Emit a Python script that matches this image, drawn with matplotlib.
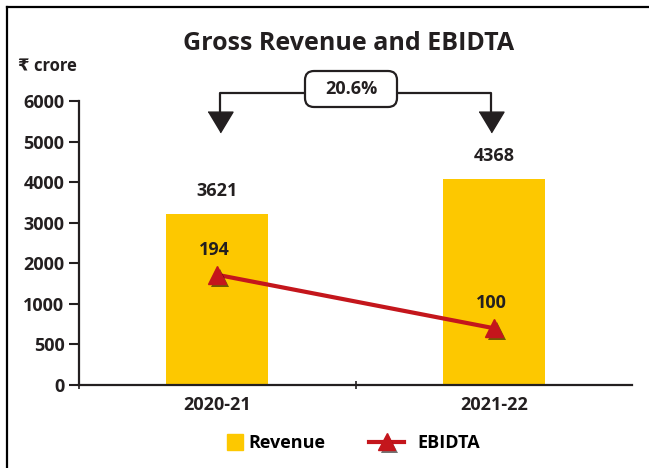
import numpy as np
import matplotlib.pyplot as plt
import matplotlib.patheffects as pe
from matplotlib.lines import Line2D
from matplotlib.patches import FancyBboxPatch
from matplotlib.transforms import IdentityTransform

plt.rcParams['font.family'] = ['Open Sans', 'DejaVu Sans']
plt.rcParams['font.weight'] = 'bold'

years = ["2020-21", "2021-22"]
revenue = [3621, 4368]
ebidta = [194, 100]
growth_label = "20.6%"
ytick_labels = ["0", "500", "1000", "2000", "3000", "4000", "5000", "6000"]

DARK = "#231F20"
YELLOW = "#FDC800"
RED = "#C4161C"
FS = 13

fig = plt.figure(figsize=(6.49, 4.68), dpi=100)
ax = fig.add_axes([79/649, 1-385/468, (632-79)/649, (385-101)/468])

x = np.arange(len(years))
rev_top = 6030
ax.bar(x, revenue, width=0.37, color=YELLOW, zorder=2)
ax.set_xlim(-0.5, 1.5)
ax.set_ylim(0, rev_top)

# ticks are evenly spaced in the source, labels as printed there
ax.set_yticks(np.linspace(0, rev_top, len(ytick_labels)))
ax.set_yticklabels(ytick_labels)
ax.set_xticks(x)
ax.set_xticklabels(years)
ax.set_xticks([-0.5, 0.5], minor=True)
ax.tick_params(axis='y', length=7.5, width=1.5, color=DARK, labelsize=FS,
               labelcolor=DARK, pad=3)
ax.tick_params(axis='x', which='major', length=0, labelsize=FS, labelcolor=DARK, pad=8)
ax.tick_params(axis='x', which='minor', length=6, width=1.2, direction='inout', color=DARK)
for s in ['top', 'right']:
    ax.spines[s].set_visible(False)
for s in ['left', 'bottom']:
    ax.spines[s].set_linewidth(1.6)
    ax.spines[s].set_color(DARK)
for lab in ax.get_xticklabels() + ax.get_yticklabels():
    lab.set_fontweight('bold')

for xi, v in zip(x, revenue):
    ax.text(xi, v + 500, str(v), ha='center', va='center', fontsize=FS,
            fontweight='bold', color=DARK)

# EBIDTA on its own scale
ax2 = ax.twinx()
ax2.set_ylim(0, 500)
ax2.axis('off')
mshadow = [pe.SimplePatchShadow(offset=(2, -2), shadow_rgbFace='k', alpha=0.55), pe.Normal()]
ax2.plot(x, ebidta, color=RED, lw=3, zorder=3)
ax2.plot(x, ebidta, ls='none', marker='^', ms=13, color=RED, zorder=4,
         path_effects=mshadow)
for xi, v in zip(x, ebidta):
    ax2.text(xi - 0.01, v + 44, str(v), ha='center', va='center', fontsize=FS,
             fontweight='bold', color=DARK)

# growth arrows
arrow_y = 6200
tip_y = 5800
head = [(-1, 0.83), (1, 0.83), (0, -0.83)]
ax.plot([0.01, 0.01, 0.485], [tip_y, arrow_y, arrow_y], color=DARK, lw=1.6, clip_on=False)
ax.plot([0.99, 0.99, 0.485], [tip_y, arrow_y, arrow_y], color=DARK, lw=1.6, clip_on=False)
ax.plot([0.01, 0.99], [5584, 5584], ls='none', marker=head, ms=18,
        color=DARK, clip_on=False)
fig.add_artist(FancyBboxPatch((305, 468-107), 92, 36,
                              boxstyle='round,pad=0,rounding_size=9',
                              fc='white', ec=DARK, lw=1.6, transform=IdentityTransform()))
fig.text(351/649, 1-89/468, growth_label, ha='center', va='center', fontsize=FS,
         fontweight='bold', color=DARK, zorder=5)

fig.text(0.537, 1-43/468, "Gross Revenue and EBIDTA", ha='center', va='center',
         fontsize=18, fontweight='bold', color=DARK)
fig.text(18/649, 1-66/468, "₹ crore", ha='left', va='center', fontsize=12,
         fontweight='bold', color=DARK)

# legend, two pieces so the square and the line keep their own widths
rev_handle = Line2D([], [], ls='none', marker='s', ms=11, color=YELLOW, label="Revenue")
ebd_handle = Line2D([], [], color=RED, lw=3, marker='^', ms=12, label="EBIDTA",
                    path_effects=mshadow)
leg1 = fig.legend(handles=[rev_handle], loc='center left',
                  bbox_to_anchor=(218/649, 1-443/468), frameon=False, borderpad=0,
                  handlelength=0.83, handletextpad=0.33, prop={'weight': 'bold', 'size': FS})
leg2 = fig.legend(handles=[ebd_handle], loc='center left',
                  bbox_to_anchor=(360/649, 1-443/468), frameon=False, borderpad=0,
                  handlelength=1.94, handletextpad=0.72, prop={'weight': 'bold', 'size': FS})

# outer frame (left and top only)
fig.add_artist(Line2D([7/649, 7/649], [0, 1-7/468], color='k', lw=1.6))
fig.add_artist(Line2D([7/649, 1], [1-7/468, 1-7/468], color='k', lw=1.6))

fig.savefig("out.png", dpi=100)
